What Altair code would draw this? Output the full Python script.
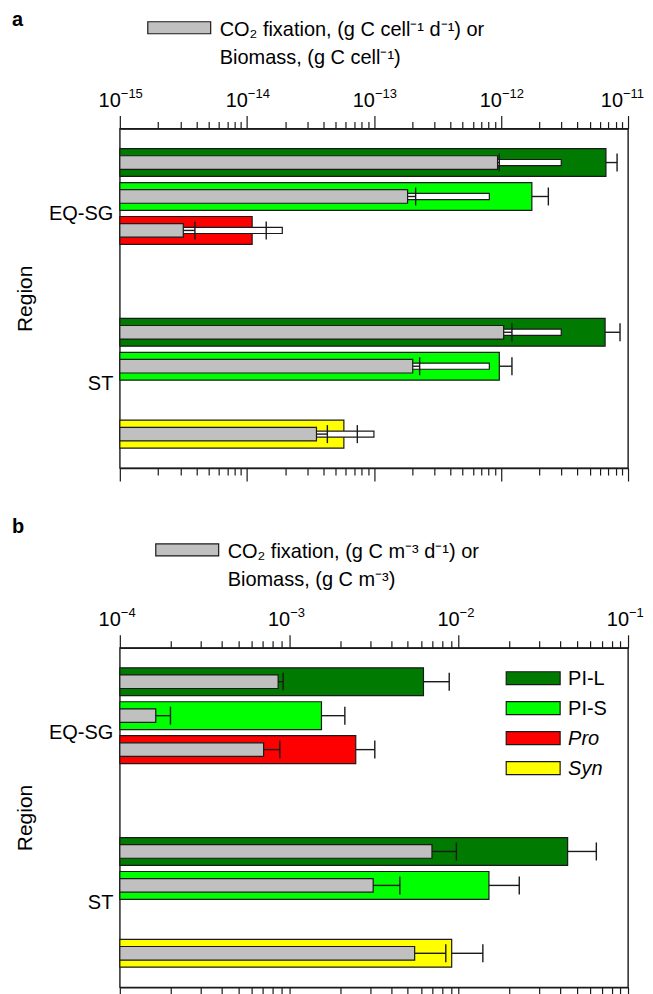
import altair as alt
import pandas as pd

# ---------------- data ----------------
regions = ["EQ-SG", "EQ-SG", "EQ-SG", "ST", "ST", "ST"]
groups = ["PI-L", "PI-S", "Pro", "PI-L", "PI-S", "Syn"]
region_order = ["EQ-SG", "ST"]
group_order = ["PI-L", "PI-S", "Pro", "Syn"]
group_colors = ["#007a00", "#00ff00", "#ff0000", "#ffff00"]

# panel a (per cell)
a_total = [6.7e-12, 1.75e-12, 1.1e-14, 6.6e-12, 9.7e-13, 5.8e-14]
a_total_hi = [8.2e-12, 2.36e-12, 1.42e-14, 8.65e-12, 1.22e-12, 7.4e-14]
a_fix = [9.4e-13, 1.84e-13, 3.16e-15, 1.05e-12, 2.02e-13, 3.53e-14]
a_fix_hi = [9.7e-13, 2.13e-13, 3.9e-15, 1.22e-12, 2.29e-13, 4.3e-14]
a_white = [2.98e-12, 8.1e-13, 1.9e-14, 2.98e-12, 8.1e-13, 1.0e-13]

# panel b (per volume)
b_total = [6.2e-3, 1.55e-3, 2.47e-3, 4.4e-2, 1.51e-2, 9.1e-3]
b_total_hi = [8.8e-3, 2.13e-3, 3.2e-3, 6.5e-2, 2.28e-2, 1.39e-2]
b_fix = [8.6e-4, 1.63e-4, 7.06e-4, 6.96e-3, 3.13e-3, 5.5e-3]
b_fix_hi = [9.2e-4, 1.99e-4, 8.8e-4, 9.7e-3, 4.5e-3, 8.4e-3]

# axis ticks (decades) and their exponent labels
a_decades = [1e-15, 1e-14, 1e-13, 1e-12, 1e-11]
a_exps = ["\u221215", "\u221214", "\u221213", "\u221212", "\u221211"]
b_decades = [1e-4, 1e-3, 1e-2, 1e-1]
b_exps = ["\u22124", "\u22123", "\u22122", "\u22121"]

a_legend = ["CO\u2082 fixation, (g C cell\u207b\u00b9 d\u207b\u00b9) or", "Biomass, (g C cell\u207b\u00b9)"]
b_legend = ["CO\u2082 fixation, (g C m\u207b\u00b3 d\u207b\u00b9) or", "Biomass, (g C m\u207b\u00b3)"]

FONT = "Liberation Sans, Arial, Helvetica, sans-serif"
W, H = 509, 340


def make_df(total, total_hi, fix, fix_hi, white=None):
    df = pd.DataFrame({"region": regions, "group": groups, "total": total,
                       "total_hi": total_hi, "fix": fix, "fix_hi": fix_hi})
    if white is not None:
        df["white"] = white
    df["slot"] = [region_order.index(r) * 5 + group_order.index(g) for r, g in zip(regions, groups)]
    return df


def tick_values(decades):
    vals = []
    for i, d in enumerate(decades):
        vals.append(d)
        if i < len(decades) - 1:
            vals += [d * m for m in range(2, 10)]
    return vals


def panel(df, decades, exps, letter, letter_y, legend_lines, leg_y, box_x, has_white,
          show_group_legend, last_dx):
    vals = tick_values(decades)
    domain = [decades[0], decades[-1]]
    lg = "log(datum.value)/LN10"
    is_major = f"abs({lg} - round({lg})) < 0.01"
    tick_size = {"condition": {"test": is_major, "value": 13}, "value": 7}

    xs = alt.Scale(type="log", domain=domain, nice=False)
    ys = alt.Scale(domain=[-1, 9], reverse=True, nice=False, zero=False)
    top_axis = alt.Axis(orient="top", values=vals, labels=False, tickSize=tick_size,
                        title=None, grid=False)
    bot_axis = alt.Axis(orient="bottom", values=vals, labels=False, tickSize=tick_size,
                        title=None, grid=False)
    y_axis = alt.Axis(values=[1.5, 6.5], labelExpr="datum.value < 4 ? 'EQ-SG' : 'ST'",
                      ticks=False, domain=False, grid=False, title="Region",
                      titlePadding=13, labelPadding=7, labelFontSize=20, titleFontSize=21)

    base = alt.Chart(df).transform_calculate(
        b0="datum.slot - 0.41", b1="datum.slot + 0.41",
        g0="datum.slot - 0.2", g1="datum.slot + 0.2",
        w0="datum.slot - 0.09", w1="datum.slot + 0.09",
        c0="datum.slot - 0.265", c1="datum.slot + 0.265",
    )
    stroke = dict(stroke="#1a1a1a", strokeWidth=1.2)
    errc = dict(color="#1a1a1a", strokeWidth=1.4)

    colored = base.mark_bar(**stroke).encode(
        x=alt.X("total:Q", scale=xs, axis=top_axis),
        x2=alt.value(0),
        y=alt.Y("b0:Q", scale=ys, axis=y_axis),
        y2="b1:Q",
        fill=alt.Fill("group:N", scale=alt.Scale(domain=group_order, range=group_colors), legend=None),
    )
    col_line = base.mark_rule(**errc).encode(
        x=alt.X("total:Q", scale=xs, axis=bot_axis), x2="total_hi:Q",
        y=alt.Y("slot:Q", scale=ys, axis=None))
    col_cap = base.mark_rule(**errc).encode(
        x=alt.X("total_hi:Q", scale=xs, axis=None),
        y=alt.Y("c0:Q", scale=ys, axis=None), y2="c1:Q")
    layers = [colored, col_line]
    if has_white:
        white = base.mark_bar(fill="white", **stroke).encode(
            x=alt.X("white:Q", scale=xs, axis=None), x2=alt.value(0),
            y=alt.Y("w0:Q", scale=ys, axis=None), y2="w1:Q")
        layers.append(white)
    layers.append(col_cap)
    gray = base.mark_bar(fill="#c0c0c0", **stroke).encode(
        x=alt.X("fix:Q", scale=xs, axis=None), x2=alt.value(0),
        y=alt.Y("g0:Q", scale=ys, axis=None), y2="g1:Q")
    g_line = base.mark_rule(**errc).encode(
        x=alt.X("fix:Q", scale=xs, axis=None), x2="fix_hi:Q",
        y=alt.Y("slot:Q", scale=ys, axis=None))
    g_cap = base.mark_rule(**errc).encode(
        x=alt.X("fix_hi:Q", scale=xs, axis=None),
        y=alt.Y("c0:Q", scale=ys, axis=None), y2="c1:Q")
    layers += [gray, g_line, g_cap]

    # decade tick labels: "10" + superscript exponent (last one nudged to stay on the page)
    tdf = pd.DataFrame({"v": decades, "e": exps})
    for part, dx in ((tdf.iloc[:-1], 1), (tdf.iloc[-1:], 1 + last_dx)):
        tb = alt.Chart(part)
        layers.append(tb.mark_text(font=FONT, fontSize=20, align="right", baseline="alphabetic", dx=dx).encode(
            x=alt.X("v:Q", scale=xs, axis=None), y=alt.value(-22), text=alt.value("10")))
        layers.append(tb.mark_text(font=FONT, fontSize=13, align="left", baseline="alphabetic", dx=dx).encode(
            x=alt.X("v:Q", scale=xs, axis=None), y=alt.value(-31), text="e:N"))

    one = alt.Chart(pd.DataFrame({"k": [0]}))
    # panel letter
    layers.append(one.mark_text(font=FONT, fontSize=20, fontWeight="bold", align="left",
                                baseline="middle").encode(
        x=alt.value(-108), y=alt.value(letter_y), text=alt.value(letter)))
    # gray legend
    layers.append(one.mark_rect(fill="#c0c0c0", **stroke).encode(
        x=alt.value(box_x), x2=alt.value(box_x + 63), y=alt.value(leg_y - 6), y2=alt.value(leg_y + 6)))
    for i, line in enumerate(legend_lines):
        layers.append(one.mark_text(font=FONT, fontSize=20, align="left", baseline="middle").encode(
            x=alt.value(box_x + 72), y=alt.value(leg_y + 2 + 28 * i), text=alt.value(line)))
    if show_group_legend:
        for i, (g, c) in enumerate(zip(group_order, group_colors)):
            yc = 30.5 + 30 * i
            layers.append(one.mark_rect(fill=c, **stroke).encode(
                x=alt.value(387), x2=alt.value(441), y=alt.value(yc - 6.5), y2=alt.value(yc + 6.5)))
            layers.append(one.mark_text(font=FONT, fontSize=20, align="left", baseline="middle",
                                        fontStyle="italic" if g in ("Pro", "Syn") else "normal").encode(
                x=alt.value(449), y=alt.value(yc + 1), text=alt.value(g)))

    return alt.layer(*layers).resolve_axis(x="independent", y="independent").properties(width=W, height=H)


df_a = make_df(a_total, a_total_hi, a_fix, a_fix_hi, a_white)
df_b = make_df(b_total, b_total_hi, b_fix, b_fix_hi)

pa = panel(df_a, a_decades, a_exps, "a", -109, a_legend, -101, 28, True, False, -6)
pb = panel(df_b, b_decades, b_exps, "b", -121, b_legend, -98, 36, False, True, 0)

chart = alt.vconcat(pa, pb, spacing=33).properties(
    padding={"left": 3, "top": 0, "right": 0, "bottom": 0}
).configure_view(stroke="#1a1a1a", strokeWidth=1.4).configure_axis(
    labelFont=FONT, labelFontSize=20, labelColor="black", titleFont=FONT, titleFontSize=21,
    titleFontWeight="normal", titleColor="black", tickColor="#1a1a1a", domainColor="#1a1a1a",
    tickWidth=1.2, domainWidth=1.4,
)

chart.save("out.html", embed_options={"renderer": "svg", "actions": False})
